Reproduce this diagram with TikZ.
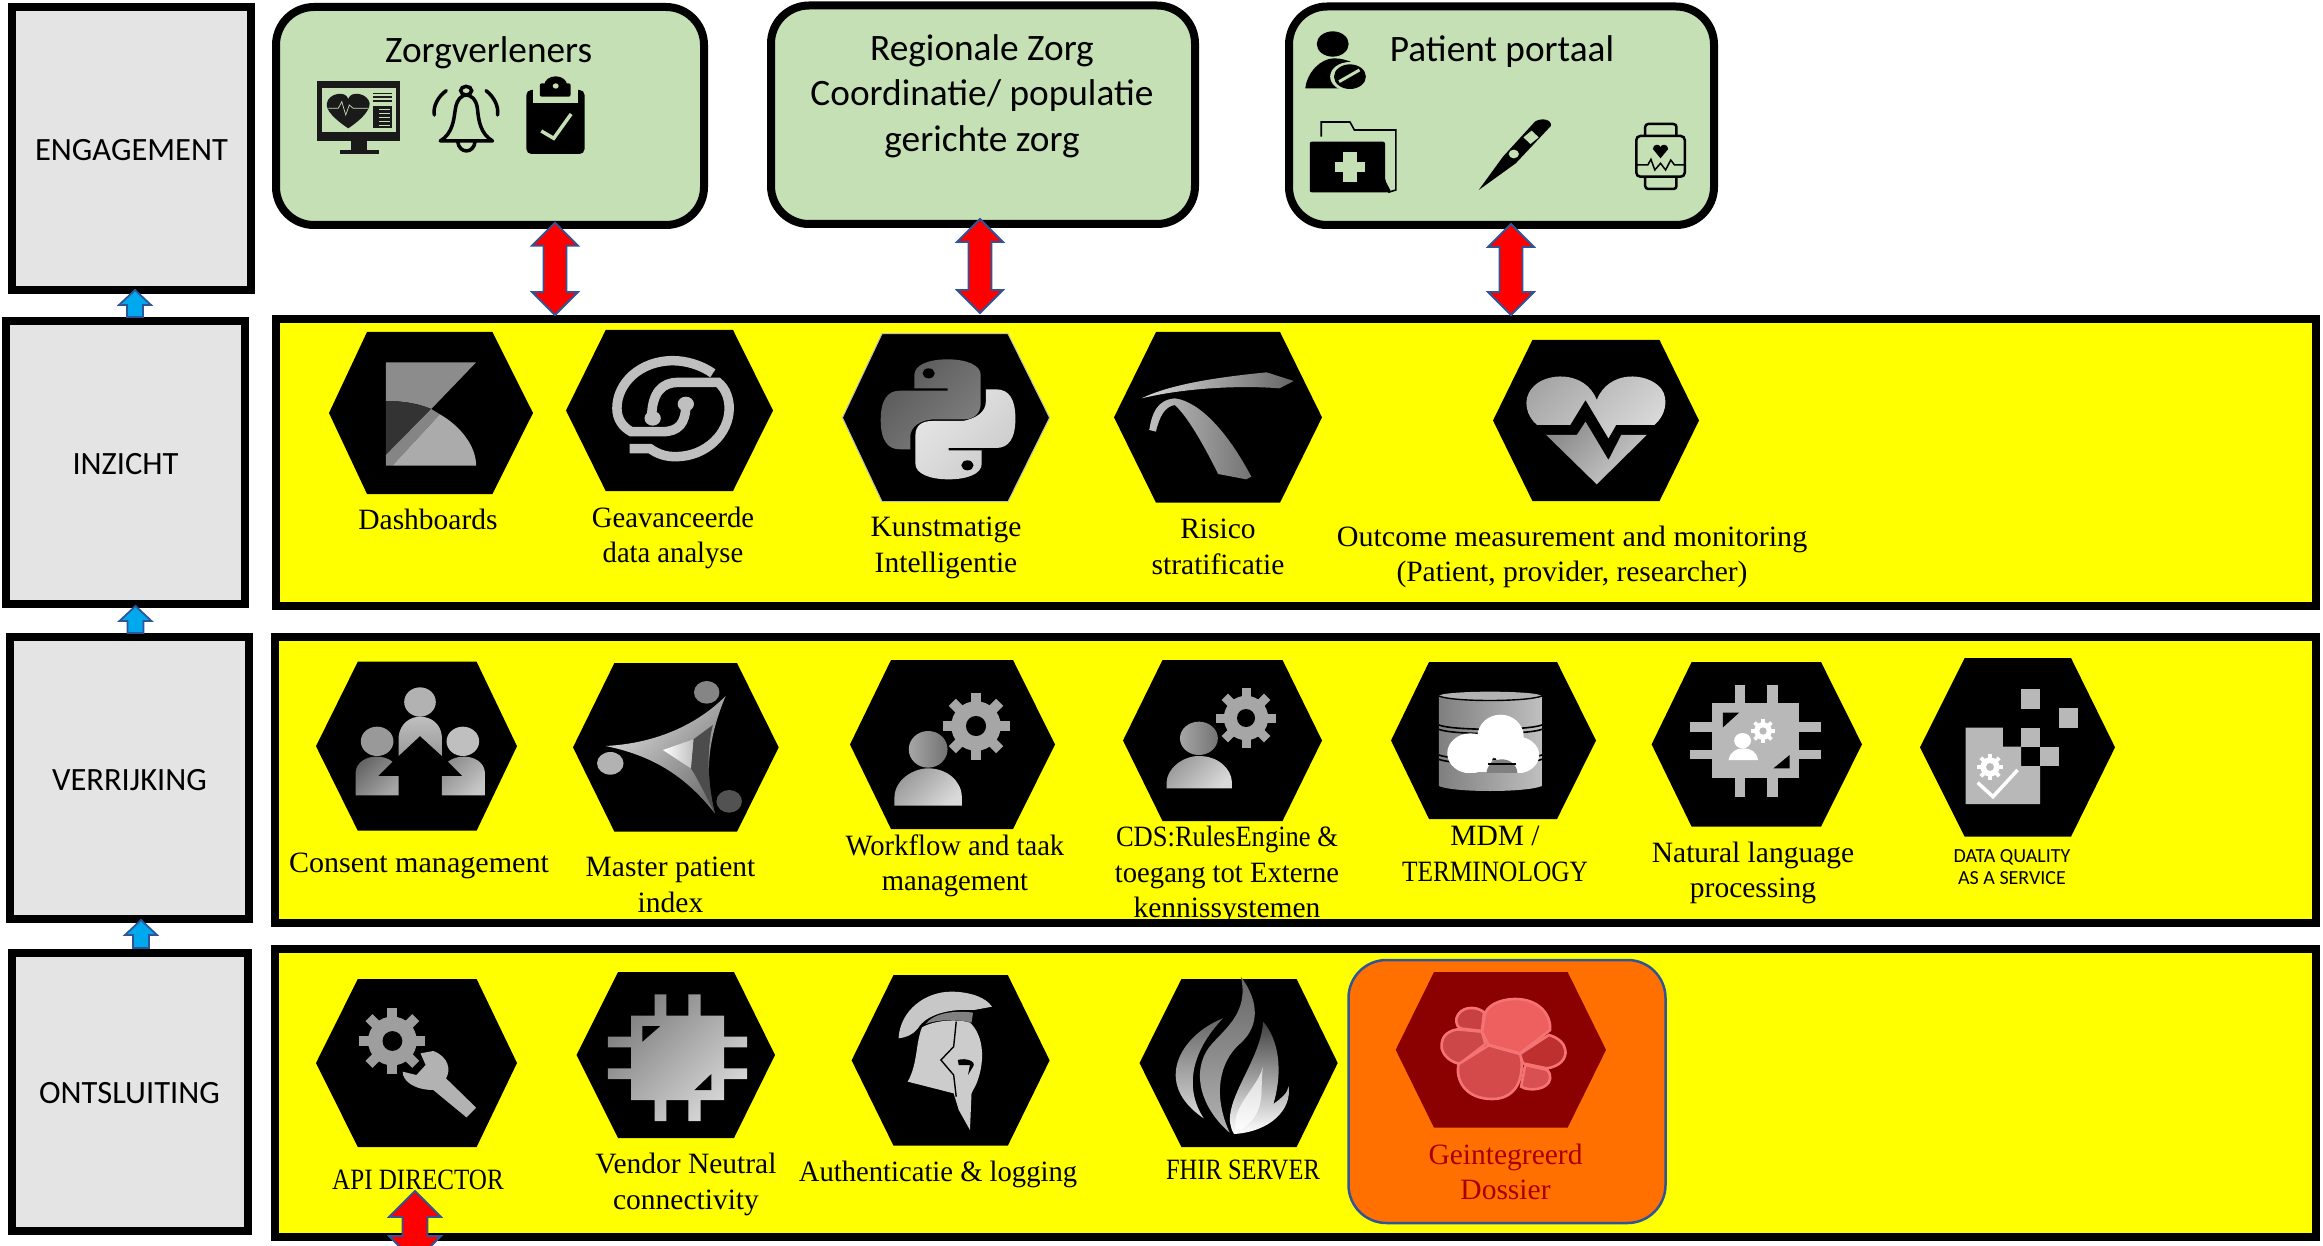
\documentclass[tikz,border=0pt]{standalone}
\usepackage{fontspec}
\usepackage{graphicx}
\setmainfont{Liberation Serif}
\newfontfamily\calfont{Carlito}
\usetikzlibrary{calc}
\definecolor{panelyellow}{HTML}{FFFF00}
\definecolor{greenbox}{HTML}{C5E0B4}
\definecolor{greybox}{HTML}{E4E4E4}
\definecolor{arrowblue}{HTML}{2F5597}
\definecolor{skyblue}{HTML}{00A8EE}
\definecolor{orangebox}{HTML}{FF7000}
\definecolor{hexred}{HTML}{8B0000}
\definecolor{darkred}{HTML}{A80000}
\definecolor{nearblack}{HTML}{1A1A1A}
\definecolor{blobline}{HTML}{F47474}
\definecolor{blobA}{HTML}{C84040}
\definecolor{blobB}{HTML}{CC4848}
\definecolor{blobC}{HTML}{D44A4A}
\definecolor{blobD}{HTML}{BE3030}
\definecolor{blobE}{HTML}{D85050}
\definecolor{blobF}{HTML}{EE6060}
\newcommand{\sx}[2]{\scalebox{#1}[1]{#2}}
\tikzset{
  x=1pt,y=-1pt,
  z1/.style={x=0.4975pt,y=-0.33333pt},
  z2/.style={shift={(760,0)},x=0.63776pt,y=-0.33333pt},
  z3/.style={shift={(270,320)},x=0.5102pt,y=-0.33333pt},
  z4/.style={shift={(1060,320)},x=0.5102pt,y=-0.33333pt},
  z5/.style={shift={(270,640)},x=0.5102pt,y=-0.33333pt},
  z6/.style={shift={(1060,640)},x=0.70153pt,y=-0.33333pt},
  z7/.style={shift={(270,950)},x=0.5102pt,y=-0.33333pt},
  z8/.style={shift={(1060,950)},x=0.44643pt,y=-0.33333pt},
  layerbox/.style={draw=black,line width=8pt,fill=greybox,inner sep=0pt,text height=24pt,text depth=0pt,font=\calfont\fontsize{32.5}{38}\selectfont},
  panel/.style={draw=black,line width=8pt,fill=panelyellow},
  engbox/.style={draw=black,line width=8pt,fill=greenbox,rounded corners=38pt},
  lbl/.style={align=center,inner sep=0pt,font=\fontsize{29.5}{35.5}\selectfont},
  greentext/.style={align=center,inner sep=0pt,font=\calfont\fontsize{37.3}{45.5}\selectfont},
  redblock/.style={draw=arrowblue,fill=red,line width=1.8pt,line join=miter},
  blueblock/.style={draw=arrowblue,fill=skyblue,line width=1.8pt,line join=miter},
  gg/.style n args={2}{left color=#1,right color=#2,shading angle=45},
  vv/.style n args={2}{top color=#1,bottom color=#2},
  blob/.style={draw=blobline,line width=2.6pt,fill=#1},
}
\newcommand{\hexa}[7][black]{%
  \fill[#1] (#3,{(#6+#7)/2}) -- (#4,#6) -- (#5,#6) -- (#2,{(#6+#7)/2}) -- (#5,#7) -- (#4,#7) -- cycle;}
\newcommand{\gearic}[5]{%
  \begin{scope}[shift={(#1,#2)},x=1pt,y=1pt]
    \fill[#4] (0,0) circle ({0.74*#3});
    \foreach \a in {0,45,...,315} {\fill[#4,rotate=\a] ({-0.15*#3},0) rectangle ({0.15*#3},#3);}
    \fill[#5] (0,0) circle ({0.3*#3});
  \end{scope}}
\newcommand{\dblblock}[5]{%
  \draw[redblock] (#1) -- ($(#1)+(#3,#5)$) -- ($(#1)+(#4,#5)$) -- ($(#2)+(#4,-#5)$) -- ($(#2)+(#3,-#5)$) -- (#2)
    -- ($(#2)+(-#3,-#5)$) -- ($(#2)+(-#4,-#5)$) -- ($(#1)+(-#4,#5)$) -- ($(#1)+(-#3,#5)$) -- cycle;}
\begin{document}
\begin{tikzpicture}
\useasboundingbox (0,0) rectangle (2323,1246);
\fill[white] (0,0) rectangle (2323,1246);

% left column
\node[layerbox,minimum width=239pt,minimum height=283pt] (eng) at (131.5,148.5) {ENGAGEMENT};
\node[layerbox,minimum width=239pt,minimum height=283pt] (inz) at (125.5,462.5) {INZICHT};
\node[layerbox,minimum width=239pt,minimum height=282pt] (ver) at (129.5,778) {VERRIJKING};
\node[layerbox,minimum width=236pt,minimum height=278pt] (ont) at (129.5,1091.5) {ONTSLUITING};

% green boxes
\path[engbox] (276,7) rectangle (704,225);
\path[engbox] (771,5.5) rectangle (1195,224);
\path[engbox] (1289,6.5) rectangle (1714,225);
\node[greentext] (zorg) at (488.6,53) {Zorgverleners};
\node[greentext] (regio) at (982,96) {Regionale Zorg\\Coordinatie/ populatie\\gerichte zorg};
\node[greentext] (pport) at (1502,52) {Patient portaal};

% yellow panels
\path[panel] (276,319) rectangle (2315.7,606);
\path[panel] (275,637) rectangle (2315.7,923);
\path[panel] (275,949) rectangle (2315.7,1237);

% orange box
\path[draw=arrowblue,line width=2.5pt,fill=orangebox,rounded corners=38pt] (1348.5,960) rectangle (1665.5,1223);

% hexagons
\hexa{533}{329}{367}{492.4}{332}{494}
\hexa{773}{566}{605.7}{733}{330}{491}
\fill[black,draw=black!25!white,line width=1pt] (842.4,417.7) -- (882,333.7) -- (1008,333.7) -- (1049.6,417.7) -- (1008,501.7) -- (882,501.7) -- cycle;
\hexa{1322}{1114}{1156}{1280}{332}{502.7}
\hexa{1699}{1493}{1532.4}{1659.5}{340}{501}
\hexa{517}{316}{357.8}{476.6}{661.7}{830.7}
\hexa{778.7}{573}{614.4}{737}{663}{831.7}
\hexa{1055}{850}{891}{1013}{660}{829}
\hexa{1322}{1123}{1162.5}{1282.5}{660}{821}
\hexa{1596}{1391}{1429}{1557}{662}{819}
\hexa{1862}{1651.6}{1691.6}{1821}{662}{826.7}
\hexa{2115}{1920}{1964.6}{2071}{658}{836.7}
\hexa{517}{316}{357.8}{476.6}{979}{1147}
\hexa{775}{576.6}{618}{734}{972}{1138}
\hexa{1049.6}{851.6}{893.5}{1007.8}{975}{1145.7}
\hexa{1337.7}{1139.5}{1181.4}{1296.6}{979}{1147}
\hexa[hexred]{1606}{1395.7}{1434}{1567.6}{972}{1127.7}

% labels
\node[lbl] (l1) at (428,519) {Dashboards};
\node[lbl] (l2) at (673,538) {\sx{0.97}{Geavanceerde}\\\sx{0.97}{data analyse}};
\node[lbl] (l3) at (946,548) {Kunstmatige\\Intelligentie};
\node[lbl] (l4) at (1218,547) {Risico\\stratificatie};
\node[lbl] (l5) at (1572,557) {\sx{1.02}{Outcome measurement and monitoring}\\\sx{1.0}{(Patient, provider, researcher)}};
\node[lbl] (l6) at (419,866) {\sx{1.02}{Consent management}};
\node[lbl] (l7) at (670.5,885) {Master patient\\index};
\node[lbl] (l8) at (955,866) {\sx{0.97}{Workflow and taak}\\\sx{0.97}{management}};
\node[lbl] (l9) at (1227,875) {\sx{0.9}{CDS:RulesEngine \&}\\\sx{0.97}{toegang tot Externe}\\kennissystemen};
\node[lbl] (l10) at (1495,854) {MDM /\\\sx{0.86}{TERMINOLOGY}};
\node[lbl] (l11) at (1753,873) {Natural language\\processing};
\node[align=center,inner sep=0pt,font=\calfont\fontsize{20}{22}\selectfont] (l12) at (2012,867) {DATA QUALITY\\AS A SERVICE};
\node[lbl] (l13) at (418,1180) {\sx{0.85}{API DIRECTOR}};
\node[lbl] (l14) at (686,1184.5) {Vendor Neutral\\connectivity};
\node[lbl] (l15) at (938,1174) {\sx{0.97}{Authenticatie \& logging}};
\node[lbl] (l16) at (1243,1169.5) {\sx{0.83}{FHIR SERVER}};
\node[lbl,text=darkred] (l17) at (1505.5,1172) {Geintegreerd\\Dossier};

% ---- engagement icons
\begin{scope}[z1]
  \fill[nearblack] (638,243) rectangle (805,423);
  \fill[greenbox] (648,265) rectangle (795,397);
  \fill[nearblack] (705,423) rectangle (738,450);
  \fill[nearblack] (683,450) rectangle (762,463);
  \fill[nearblack] (700,385) .. controls (670,355) and (655,330) .. (657,310) .. controls (660,280) and (695,270) .. (700,297) .. controls (705,270) and (740,280) .. (743,310) .. controls (743,330) and (730,355) .. (700,385) -- cycle;
  \draw[greenbox,line width=0.7pt] (660,325) -- (680,325) -- (687,305) -- (695,345) -- (702,315) -- (710,325) -- (740,325);
  \fill[nearblack] (750,278) rectangle (788,283);
  \fill[nearblack] (750,289) rectangle (788,294);
  \fill[nearblack] (750,300) rectangle (788,305);
  \fill[nearblack] (750,317) rectangle (788,385);
  \foreach \yy in {328,340,352,364,376} {\fill[greenbox] (762,\yy) rectangle (784,\yy+3);}
  % bell
  \draw[black,line width=3.5pt,line join=round] (885,423) .. controls (910,400) and (912,360) .. (915,330) .. controls (918,295) and (930,285) .. (937,285) .. controls (945,285) and (958,295) .. (960,330) .. controls (962,360) and (965,400) .. (990,423) -- cycle;
  \draw[black,line width=3.5pt] (937,272) ellipse [x radius=11,y radius=13];
  \draw[black,line width=3.5pt] (920,425) .. controls (923,462) and (952,462) .. (955,425);
  \draw[black,line width=3.5pt,line cap=round] (873,345) .. controls (870,320) and (880,290) .. (897,272);
  \draw[black,line width=3.5pt,line cap=round] (1000,345) .. controls (1003,320) and (993,290) .. (977,272);
  % clipboard
  \fill[black,rounded corners=5pt] (1058,270) rectangle (1175,462);
  \draw[greenbox,line width=2.5pt] (1073,265) -- (1073,305) -- (1160,305) -- (1160,265);
  \fill[greenbox] (1073,262) rectangle (1160,300);
  \fill[black,rounded corners=2pt] (1085,250) rectangle (1147,290);
  \fill[black] (1117,256) ellipse [x radius=23,y radius=27];
  \fill[greenbox] (1117,258) ellipse [x radius=6,y radius=8];
  \draw[greenbox,line width=3.5pt] (1088,393) -- (1113,415) -- (1148,342);
\end{scope}
\begin{scope}[z2]
  % patient
  \fill[black] (898,132) ellipse [x radius=25,y radius=38];
  \fill[black] (855,265) .. controls (858,215) and (880,175) .. (900,175) .. controls (920,175) and (945,195) .. (950,230) -- (930,265) -- cycle;
  \fill[greenbox] (925,230) ellipse [x radius=31,y radius=44];
  \fill[black] (925,230) ellipse [x radius=25,y radius=37];
  \draw[greenbox,line width=3pt] (908,245) -- (940,210);
  % folder
  \draw[black,line width=1.6pt] (880,410) -- (880,366) -- (925,366) -- (932,390) -- (997,390) -- (997,570) -- (985,577);
  \fill[black,rounded corners=2pt] (862,425) -- (980,425) -- (980,540) -- (990,577) -- (862,577) -- cycle;
  \fill[greenbox] (902,487) rectangle (948,517);
  \fill[greenbox] (914,457) rectangle (936,545);
  % thermometer
  \fill[black] (1127,570) -- (1165,470) -- (1215,365) .. controls (1225,352) and (1242,358) .. (1240,378) -- (1185,490) -- cycle;
  \fill[greenbox] (1210,392) -- (1221,412) -- (1208,432) -- (1197,412) -- cycle;
  \fill[greenbox] (1182,462) ellipse [x radius=8,y radius=13];
  % watch
  \draw[black,line width=2.5pt,rounded corners=3pt] (1388,408) -- (1388,372) -- (1437,372) -- (1437,408);
  \draw[black,line width=2.5pt,rounded corners=3pt] (1388,530) -- (1388,567) -- (1437,567) -- (1437,530);
  \draw[black,line width=2.5pt,rounded corners=4pt] (1374,408) rectangle (1450,530);
  \fill[black] (1412,475) -- (1400,447) .. controls (1400,430) and (1412,432) .. (1412,442) .. controls (1412,432) and (1424,430) .. (1424,447) -- cycle;
  \draw[black,line width=1.5pt] (1374,495) -- (1392,495) -- (1397,478) -- (1403,510) -- (1412,490) -- (1420,510) -- (1428,480) -- (1434,495) -- (1450,495);
\end{scope}

% ---- row 1 icons
\begin{scope}[z3]
  \fill[black!45] (227,127) -- (404,127) -- (316,267) .. controls (290,250) and (260,243) .. (227,243) -- cycle;
  \fill[black!80] (227,243) .. controls (260,243) and (290,250) .. (316,267) -- (227,405) -- cycle;
  \fill[black!48] (316,267) -- (333,283) -- (240,437) -- (227,437) -- (227,405) -- cycle;
  \fill[black!33] (333,283) .. controls (375,320) and (404,380) .. (404,437) -- (240,437) -- cycle;
  % geavanceerd
  \draw[black!25,line width=9.5pt] (868,160) .. controls (845,135) and (815,122) .. (790,122) .. controls (725,122) and (680,190) .. (680,265) .. controls (680,295) and (690,320) .. (708,335) -- (770,335) .. controls (800,335) and (815,310) .. (815,255);
  \fill[black!25] (815,252) ellipse [x radius=16,y radius=22];
  \draw[black!25,line width=9.5pt] (705,386) -- (745,386) .. controls (760,402) and (775,410) .. (795,410) .. controls (855,410) and (900,340) .. (900,265) .. controls (900,235) and (893,205) .. (878,187) -- (800,187) .. controls (770,187) and (748,215) .. (748,295);
  \fill[black!25] (750,295) ellipse [x radius=16,y radius=22];
  % python
  \shade[gg={black!65}{black!50}] (1263,205) -- (1328,205) -- (1328,212) -- (1235,212) .. controls (1210,212) and (1197,240) .. (1197,300) .. controls (1197,360) and (1210,388) .. (1235,388) -- (1255,388) -- (1255,350) .. controls (1255,320) and (1275,300) .. (1300,298) -- (1360,298) .. controls (1380,298) and (1393,280) .. (1393,250) -- (1393,165) .. controls (1393,135) and (1365,118) .. (1328,118) .. controls (1290,118) and (1263,135) .. (1263,165) -- cycle;
  \shade[gg={black!10}{black!20}] (1395,391) -- (1330,391) -- (1330,384) -- (1423,384) .. controls (1448,384) and (1461,356) .. (1461,296) .. controls (1461,236) and (1448,208) .. (1423,208) -- (1403,208) -- (1403,246) .. controls (1403,276) and (1383,296) .. (1358,303) -- (1298,303) .. controls (1278,303) and (1265,316) .. (1265,346) -- (1265,431) .. controls (1265,461) and (1293,478) .. (1330,478) .. controls (1368,478) and (1395,461) .. (1395,431) -- cycle;
  \fill[black] (1291,160) ellipse [x radius=12,y radius=15];
  \fill[black] (1367,436) ellipse [x radius=12,y radius=15];
\end{scope}
\begin{scope}[z4]
  \shade[left color=black!15,right color=black!60] (160,235) .. controls (220,190) and (320,170) .. (405,157) -- (458,183) -- (430,205) .. controls (350,195) and (240,205) .. (160,235) -- cycle;
  \shade[left color=black!25,right color=black!55] (175,330) .. controls (180,280) and (190,240) .. (225,235) .. controls (275,245) and (330,340) .. (375,470) -- (365,478) -- (310,462) .. controls (280,370) and (250,290) .. (225,255) .. controls (205,260) and (195,290) .. (188,335) -- cycle;
  \shade[gg={black!35}{black!15}] (935,315) .. controls (915,290) and (905,240) .. (925,205) .. controls (950,155) and (1030,150) .. (1052,240) .. controls (1075,150) and (1150,155) .. (1178,205) .. controls (1195,240) and (1185,290) .. (1165,315) -- (1090,315) -- (1075,355) -- (1030,240) -- (1000,315) -- cycle;
  \shade[gg={black!45}{black!20}] (953,345) -- (1013,345) -- (1030,305) -- (1075,420) -- (1100,345) -- (1150,345) -- (1052,493) -- cycle;
\end{scope}

% ---- row 2 icons
\begin{scope}[z5]
  \fill[black!30] (294,186) ellipse [x radius=31,y radius=44];
  \shade[vv={black!25}{black!40}] (252,348) -- (252,290) .. controls (255,250) and (275,230) .. (294,230) .. controls (315,230) and (335,250) .. (337,290) -- (337,348) -- (294,288) -- cycle;
  \fill[black!40] (210,304) ellipse [x radius=32,y radius=44];
  \shade[gg={black!60}{black!35}] (168,466) -- (168,395) .. controls (170,365) and (190,350) .. (208,350) .. controls (222,350) and (232,355) .. (240,365) -- (212,408) -- (252,408) -- (252,466) -- cycle;
  \fill[black!25] (378,304) ellipse [x radius=32,y radius=44];
  \shade[gg={black!45}{black!22}] (421,466) -- (421,395) .. controls (419,365) and (399,350) .. (381,350) .. controls (367,350) and (357,355) .. (349,365) -- (377,408) -- (337,408) -- (337,466) -- cycle;
  % mpi
  \fill[black!48] (856,157) ellipse [x radius=25,y radius=34];
  \fill[black!30] (667,370) ellipse [x radius=26,y radius=34];
  \fill[black!68] (900,484) ellipse [x radius=25,y radius=34];
  \shade[gg={black!15}{black!55}] (658,318) .. controls (760,310) and (840,250) .. (893,168) .. controls (860,290) and (850,400) .. (872,520) .. controls (820,420) and (760,350) .. (658,318) -- cycle;
  \fill[black!70] (868,255) .. controls (855,330) and (858,430) .. (872,520) .. controls (855,470) and (840,420) .. (825,385) -- (830,298) -- cycle;
  \shade[left color=white,right color=black!25] (770,330) -- (830,298) -- (825,385) -- cycle;
  % workflow person
  \shade[left color=black!35,right color=black!55] (1290,328) ellipse [x radius=38,y radius=55];
  \shade[gg={black!40}{black!15}] (1224,497) -- (1224,470) .. controls (1225,420) and (1260,385) .. (1290,385) .. controls (1325,385) and (1355,420) .. (1356,470) -- (1356,497) -- cycle;
\end{scope}
\gearic{976}{726}{33.5}{black!35}{black}
\begin{scope}[z6]
  % cds
  \shade[left color=black!35,right color=black!55] (198,295) ellipse [x radius=27,y radius=50];
  \shade[gg={black!40}{black!15}] (152,445) -- (152,425) .. controls (153,385) and (175,348) .. (198,348) .. controls (225,348) and (244,385) .. (245,425) -- (245,445) -- cycle;
  % mdm
  \shade[left color=black!50,right color=black!25] (540,168) -- (540,438) .. controls (560,458) and (665,458) .. (687,438) -- (687,168) -- cycle;
  \fill[black!30] (613,168) ellipse [x radius=73,y radius=13];
  \draw[black,line width=1.4pt] (540,168) .. controls (560,186) and (665,186) .. (687,168);
  \draw[black,line width=1.6pt] (540,255) .. controls (560,272) and (665,272) .. (687,255);
  \draw[black,line width=1.6pt] (540,268) .. controls (560,285) and (665,285) .. (687,268);
  \draw[black,line width=1.6pt] (540,345) .. controls (560,362) and (665,362) .. (687,345);
  \draw[black,line width=1.6pt] (540,358) .. controls (560,375) and (665,375) .. (687,358);
  \begin{scope}
    \clip (540,220) rectangle (690,396);
    \fill[white] (585,340) ellipse [x radius=33,y radius=60];
    \fill[white] (628,290) ellipse [x radius=33,y radius=66];
    \fill[white] (652,345) ellipse [x radius=31,y radius=55];
    \fill[white] (590,370) rectangle (660,396);
    \fill[black!50] (630,400) ellipse [x radius=22,y radius=42];
    \draw[black,line width=1.4pt] (610,372) -- (650,372);
  \end{scope}
  % nlp chip
  \fill[black!28] (930,190) rectangle (1053,413);
  \foreach \xx in {962,1008} {\fill[black!28] (\xx,135) rectangle (\xx+15,190); \fill[black!28] (\xx,413) rectangle (\xx+15,470);}
  \foreach \yy in {247,330} {\fill[black!28] (898,\yy) rectangle (930,\yy+28); \fill[black!28] (1053,\yy) rectangle (1085,\yy+28);}
  \fill[black] (945,218) -- (968,218) -- (945,262) -- cycle;
  \fill[black] (1040,345) -- (1040,385) -- (1017,385) -- cycle;
  \fill[white] (973,302) ellipse [x radius=12,y radius=23];
  \fill[white] (953,360) .. controls (955,335) and (965,325) .. (973,325) .. controls (985,325) and (993,335) .. (995,360) -- cycle;
  % data quality
  \fill[black!28] (1370,148) rectangle (1397,207);
  \fill[black!28] (1424,205) rectangle (1451,265);
  \fill[black!28] (1370,263) rectangle (1397,320);
  \fill[black!28] (1397,320) rectangle (1424,378);
  \fill[black!28] (1291,263) -- (1344,263) -- (1344,320) -- (1370,320) -- (1370,378) -- (1397,378) -- (1397,492) -- (1291,492) -- cycle;
  \draw[white,line width=3.5pt] (1308,428) -- (1330,470) -- (1365,390);
\end{scope}
\gearic{1246}{718}{30}{black!35}{black}
\gearic{1763}{731}{12}{white}{black!28}
\gearic{1990}{767}{13}{white}{black!28}

% ---- row 3 icons
\gearic{392.4}{1041}{33}{black!38}{black}
\begin{scope}[z7]
  \fill[black!30] (320,303) .. controls (350,320) and (355,360) .. (345,385) -- (404,473) -- (385,502) -- (320,420) .. controls (285,420) and (260,395) .. (260,365) -- (287,375) -- (305,345) -- (295,310) -- cycle;
  % chip
  \shade[gg={black!50}{black!15}] (708,197) -- (754,197) -- (754,133) -- (777,133) -- (777,197) -- (820,197) -- (820,133) -- (844,133) -- (844,197) -- (890,197) -- (890,260) -- (935,260) -- (935,292) -- (890,292) -- (890,355) -- (935,355) -- (935,387) -- (890,387) -- (890,450) -- (844,450) -- (844,513) -- (820,513) -- (820,450) -- (777,450) -- (777,513) -- (754,513) -- (754,450) -- (708,450) -- (708,387) -- (662,387) -- (662,355) -- (708,355) -- (708,292) -- (662,292) -- (662,260) -- (708,260) -- cycle;
  \fill[black] (730,228) -- (765,228) -- (730,275) -- cycle;
  \fill[black] (865,372) -- (865,420) -- (832,420) -- cycle;
  % helmet
  \fill[black!22] (1232,265) .. controls (1235,180) and (1285,125) .. (1335,125) .. controls (1375,125) and (1405,145) .. (1415,170) -- (1380,180) .. controls (1330,175) and (1285,195) .. (1270,235) .. controls (1262,252) and (1248,262) .. (1232,265) -- cycle;
  \fill[black!50] (1285,222) .. controls (1300,190) and (1340,180) .. (1378,188) -- (1375,218) .. controls (1345,205) and (1305,210) .. (1285,222) -- cycle;
  \fill[black!20] (1278,232) .. controls (1300,212) and (1345,205) .. (1372,218) .. controls (1395,250) and (1405,320) .. (1385,400) -- (1375,430) -- (1372,540) -- (1350,480) -- (1340,430) -- (1250,395) .. controls (1270,340) and (1265,280) .. (1278,232) -- cycle;
  \draw[black,line width=1.4pt] (1345,215) -- (1340,290) -- (1315,330) -- (1340,375) -- (1345,440);
  \fill[black] (1348,330) .. controls (1365,322) and (1385,335) .. (1378,350) -- (1368,375) -- (1372,345) -- (1350,345) -- cycle;
\end{scope}
\begin{scope}[z8]
  % flame
  \shade[top color=black!60,bottom color=black!15] (365,205) .. controls (270,255) and (205,400) .. (322,505) .. controls (280,420) and (290,310) .. (365,205) -- cycle;
  \shade[top color=black!60,middle color=black!5,bottom color=black!30] (405,80) .. controls (450,160) and (445,235) .. (400,285) .. controls (360,335) and (340,430) .. (380,548) .. controls (320,480) and (290,370) .. (335,290) .. controls (365,240) and (425,190) .. (405,80) -- cycle;
  \shade[top color=black!75,middle color=black!30,bottom color=white] (455,215) .. controls (490,270) and (500,360) .. (478,462) .. controls (495,445) and (510,430) .. (512,408) .. controls (520,480) and (470,545) .. (390,552) .. controls (350,470) and (450,340) .. (455,215) -- cycle;
  \shade[top color=black!15,bottom color=white] (455,350) .. controls (445,420) and (470,490) .. (395,548) .. controls (380,470) and (440,420) .. (455,350) -- cycle;
  % dossier
  \filldraw[blob=blobA] (950,187) .. controls (930,165) and (895,170) .. (888,205) .. controls (886,222) and (892,235) .. (900,236) -- (945,243) -- cycle;
  \filldraw[blob=blobB] (890,238) .. controls (860,245) and (853,270) .. (855,295) .. controls (860,320) and (875,335) .. (895,342) -- (953,282) -- (945,245) -- cycle;
  \filldraw[blob=blobC] (960,286) -- (893,342) .. controls (885,385) and (905,447) .. (968,447) .. controls (1015,447) and (1040,400) .. (1033,320) -- (1030,312) -- cycle;
  \filldraw[blob=blobD] (1095,255) -- (1030,312) -- (1037,340) -- (1090,355) .. controls (1120,350) and (1135,325) .. (1132,300) .. controls (1130,280) and (1115,262) .. (1095,255) -- cycle;
  \filldraw[blob=blobE] (1042,345) -- (1033,410) .. controls (1050,425) and (1095,420) .. (1098,385) .. controls (1098,375) and (1097,368) .. (1092,360) -- cycle;
  \filldraw[blob=blobF] (953,187) .. controls (965,155) and (1000,147) .. (1020,147) .. controls (1070,147) and (1100,190) .. (1098,240) -- (1030,310) -- (960,284) -- (945,245) -- cycle;
\end{scope}

% ---- arrows
\coordinate (a1t) at (555,222.7); \coordinate (a1b) at (555,315);
\coordinate (a2t) at (980,219); \coordinate (a2b) at (980,313);
\coordinate (a3t) at (1511,224); \coordinate (a3b) at (1511,315);
\dblblock{a1t}{a1b}{23}{11.5}{23}
\dblblock{a2t}{a2b}{23}{11.5}{23}
\dblblock{a3t}{a3b}{23}{11.5}{23}
\coordinate (a4t) at (415,1191); \coordinate (a4b) at (415,1262);
\begin{scope}
  \clip (0,0) rectangle (2323,1246);
  \dblblock{a4t}{a4b}{26}{12.5}{26}
\end{scope}
\coordinate (b1t) at (135,290); \coordinate (b1b) at (135,317);
\coordinate (b2t) at (135.5,606); \coordinate (b2b) at (135.5,633);
\coordinate (b3t) at (141,920); \coordinate (b3b) at (141,948);
\foreach \t/\b in {b1t/b1b,b2t/b2b,b3t/b3b} {
  \draw[blueblock] (\t) -- ($(\t)+(16,15)$) -- ($(\t)+(8,15)$) -- ($(\b)+(8,0)$) -- ($(\b)+(-8,0)$) -- ($(\t)+(-8,15)$) -- ($(\t)+(-16,15)$) -- cycle;
}
\end{tikzpicture}
\end{document}
